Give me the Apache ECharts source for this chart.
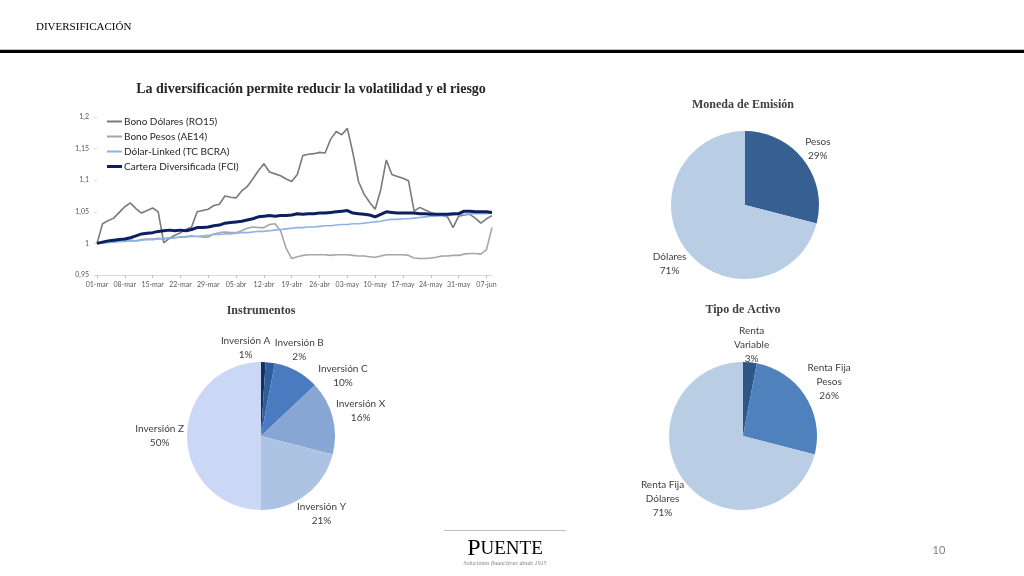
<!DOCTYPE html>
<html><head><meta charset="utf-8">
<script src="https://cdn.jsdelivr.net/npm/echarts@6/dist/echarts.min.js"></script>
<style>html,body{margin:0;padding:0;background:#fff}#c{width:1024px;height:576px}</style>
</head><body><div id="c"></div>
<script>
const dates = ['01-mar','04-mar','05-mar','06-mar','07-mar','08-mar','11-mar','12-mar','13-mar','14-mar','15-mar','18-mar','19-mar','20-mar','21-mar','22-mar','25-mar','26-mar','27-mar','28-mar','29-mar',
'01-abr','02-abr','03-abr','04-abr','05-abr','08-abr','09-abr','10-abr','11-abr','12-abr','15-abr','16-abr','17-abr','18-abr','19-abr','22-abr','23-abr','24-abr','25-abr','26-abr','29-abr','30-abr',
'01-may','02-may','03-may','06-may','07-may','08-may','09-may','10-may','13-may','14-may','15-may','16-may','17-may','20-may','21-may','22-may','23-may','24-may','27-may','28-may','29-may','30-may','31-may',
'03-jun','04-jun','05-jun','06-jun','07-jun','10-jun'];

const bonoDolares = [1.000,1.031,1.036,1.040,1.049,1.058,1.064,1.055,1.048,1.052,
 1.056,1.050,1.001,1.008,1.013,1.017,1.022,1.026,1.050,1.052,
 1.054,1.060,1.062,1.075,1.073,1.072,1.083,1.090,1.102,1.115,
 1.126,1.113,1.110,1.107,1.102,1.098,1.109,1.139,1.141,1.142,
 1.144,1.143,1.165,1.177,1.172,1.182,1.143,1.098,1.078,1.065,
 1.054,1.085,1.132,1.109,1.106,1.103,1.099,1.051,1.057,1.053,
 1.049,1.046,1.044,1.042,1.025,1.043,1.045,1.046,1.040,1.032,
 1.039,1.044];

const bonoPesos = [1.000,1.001,1.002,1.003,1.003,1.004,1.005,1.004,1.006,1.007,
 1.007,1.008,1.007,1.009,1.009,1.010,1.011,1.012,1.011,1.010,
 1.010,1.015,1.017,1.018,1.017,1.017,1.020,1.024,1.026,1.025,
 1.025,1.030,1.031,1.020,0.992,0.976,0.979,0.981,0.982,0.982,
 0.982,0.982,0.981,0.982,0.982,0.982,0.981,0.980,0.980,0.979,
 0.978,0.980,0.982,0.982,0.982,0.982,0.981,0.977,0.976,0.976,
 0.977,0.978,0.980,0.980,0.981,0.981,0.983,0.984,0.984,0.983,
 0.990,1.025];

const dolarLinked = [1.000,1.001,1.001,1.002,1.003,1.003,1.004,1.004,1.005,1.006,
 1.006,1.007,1.008,1.008,1.009,1.010,1.010,1.011,1.011,1.012,
 1.013,1.014,1.014,1.015,1.015,1.016,1.017,1.017,1.018,1.019,
 1.019,1.020,1.021,1.022,1.023,1.024,1.025,1.025,1.026,1.026,
 1.027,1.028,1.028,1.029,1.030,1.030,1.031,1.031,1.032,1.033,
 1.034,1.035,1.037,1.038,1.038,1.039,1.039,1.040,1.041,1.042,
 1.043,1.043,1.044,1.044,1.045,1.046,1.046,1.047,1.047,1.047,
 1.047,1.048];

const carteraFCI = [1.000,1.002,1.004,1.005,1.006,1.007,1.009,1.012,1.015,1.016,
 1.017,1.019,1.020,1.021,1.020,1.021,1.020,1.022,1.025,1.025,
 1.026,1.028,1.029,1.032,1.033,1.034,1.035,1.037,1.039,1.042,
 1.043,1.044,1.043,1.044,1.044,1.045,1.047,1.046,1.047,1.047,
 1.048,1.048,1.049,1.050,1.051,1.052,1.048,1.047,1.046,1.045,
 1.042,1.046,1.050,1.049,1.048,1.048,1.048,1.048,1.047,1.047,
 1.046,1.046,1.046,1.046,1.047,1.047,1.051,1.051,1.050,1.050,
 1.050,1.049];

const lineNames = ['Bono Dólares (RO15)','Bono Pesos (AE14)','Dólar-Linked (TC BCRA)','Cartera Diversificada (FCI)'];

const monedaNames = ['Pesos','Dólares'];
const monedaValues = [29,71];
const instrNames = ['Inversión A','Inversión B','Inversión C','Inversión X','Inversión Y','Inversión Z'];
const instrValues = [1,2,10,16,21,50];
const tipoNames = ['Renta Variable','Renta Fija Pesos','Renta Fija Dólares'];
const tipoValues = [3,26,71];

const SANS = 'Lato, "Open Sans", sans-serif';
const SERIF = '"Liberation Serif", "DejaVu Serif", serif';
const PIE_R = 74;
const LABEL_FONT = 10, LABEL_LH = 14;

// "best fit"-style outside labels: start at slice mid-angle, push neighbours apart until boxes no longer overlap.
const measureCtx = document.createElement('canvas').getContext('2d');
function placeLabels(texts, values, center) {
  measureCtx.font = LABEL_FONT + 'px ' + SANS;
  const sizes = texts.map(t => {
    const lines = t.split('\n');
    return { w: Math.max.apply(null, lines.map(l => measureCtx.measureText(l).width)), h: lines.length * LABEL_LH };
  });
  const total = values.reduce((a, b) => a + b, 0);
  let acc = 0;
  const ang = values.map(v => { const m = (acc + v / 2) / total * 360; acc += v; return m; });
  const pos = (i) => {
    const a = ang[i] * Math.PI / 180, ux = Math.sin(a), uy = -Math.cos(a);
    const d = PIE_R + 3 + Math.abs(ux) * sizes[i].w / 2 + 0.6 * Math.abs(uy) * sizes[i].h / 2;
    return { x: center[0] + ux * d, y: center[1] + uy * d };
  };
  const overlap = (i, j) => {
    const p = pos(i), q = pos(j);
    return Math.abs(p.x - q.x) < (sizes[i].w + sizes[j].w) / 2 + 4 &&
           Math.abs(p.y - q.y) < (sizes[i].h + sizes[j].h) / 2 - 2;
  };
  const n = values.length;
  for (let it = 0; it < 4000; it++) {
    let moved = false;
    for (let i = 0; i < n; i++) {
      const j = (i + 1) % n;
      if (n > 1 && overlap(i, j)) { ang[i] -= 0.15; ang[j] += 0.35; moved = true; }
    }
    if (!moved) break;
  }
  return values.map((v, i) => pos(i));
}

function pieSeries(name, center, names, values, colors, nameFmt) {
  const texts = names.map((n, i) => nameFmt(n) + '\n' + values[i] + '%');
  const places = placeLabels(texts, values, center);
  return {
    type: 'pie', name: name, radius: PIE_R, center: center, startAngle: 90, clockwise: true, silent: true,
    avoidLabelOverlap: false,
    labelLine: { show: false, length: 10, length2: 0 },
    itemStyle: { borderWidth: 0 },
    data: names.map((n, i) => ({ name: n, value: values[i], itemStyle: { color: colors[i] } })),
    label: { show: true, position: 'outside', color: '#404040', fontFamily: SANS, fontSize: LABEL_FONT, lineHeight: LABEL_LH,
      formatter: p => texts[p.dataIndex] },
    labelLayout: p => ({ x: places[p.dataIndex].x, y: places[p.dataIndex].y, align: 'center', verticalAlign: 'middle' })
  };
}

const chart = echarts.init(document.getElementById('c'), null, { renderer: 'canvas' });
const legendText = { fontFamily: SANS, fontSize: 10, lineHeight: 13, color: '#262626', padding: [0, 0, 0, -3] };
const option = {
  backgroundColor: '#fff',
  animation: false,
  legend: [
    { data: lineNames.slice(0, 3), orient: 'vertical', left: 107, top: 115, padding: 0, itemGap: 2, icon: 'rect',
      itemWidth: 15, itemHeight: 2, textStyle: legendText },
    { data: lineNames.slice(3), orient: 'vertical', left: 107, top: 160, padding: 0, itemGap: 2, icon: 'rect',
      itemWidth: 15, itemHeight: 3, textStyle: legendText }
  ],
  grid: { left: 97, top: 117, width: 395, height: 158, containLabel: false },
  xAxis: {
    type: 'category', data: dates, boundaryGap: false,
    axisLine: { lineStyle: { color: '#d9d9d9' } },
    axisTick: { interval: 4, length: 3, lineStyle: { color: '#bfbfbf' } },
    axisLabel: { interval: 4, fontFamily: SANS, fontSize: 7, color: '#595959', margin: 6 },
    splitLine: { show: false }
  },
  yAxis: {
    type: 'value', min: 0.95, max: 1.2, interval: 0.05,
    axisLine: { show: false },
    axisTick: { show: true, length: 3, lineStyle: { color: '#d9d9d9' } },
    splitLine: { show: false },
    axisLabel: { fontFamily: SANS, fontSize: 7, color: '#595959', margin: 8,
      formatter: v => String(+v.toFixed(2)).replace('.', ',') }
  },
  series: [
    { name: lineNames[0], type: 'line', data: bonoDolares, symbol: 'none', lineStyle: { color: '#7a7a7a', width: 1.6 }, itemStyle: { color: '#7a7a7a' }, z: 3 },
    { name: lineNames[1], type: 'line', data: bonoPesos, symbol: 'none', lineStyle: { color: '#a6a6a6', width: 1.6 }, itemStyle: { color: '#a6a6a6' }, z: 2 },
    { name: lineNames[2], type: 'line', data: dolarLinked, symbol: 'none', lineStyle: { color: '#8db3e2', width: 1.6 }, itemStyle: { color: '#8db3e2' }, z: 4 },
    { name: lineNames[3], type: 'line', data: carteraFCI, symbol: 'none', lineStyle: { color: '#0c1f5e', width: 3 }, itemStyle: { color: '#0c1f5e' }, z: 5 },
    pieSeries('Moneda de Emisión', [745, 205], monedaNames, monedaValues, ['#366092', '#b9cde5'], n => n),
    pieSeries('Instrumentos', [261, 436], instrNames, instrValues,
      ['#14305c', '#2f5d9b', '#4a7bc0', '#88a6d4', '#adc3e3', '#cad8f6'], n => n),
    pieSeries('Tipo de Activo', [743, 436], tipoNames, tipoValues, ['#2e5788', '#4f81bd', '#b9cde5'],
      n => n.replace(/^(Renta(?: Fija)?) /, '$1\n'))
  ],
  graphic: [
    { type: 'text', x: 36, y: 27, style: { text: 'DIVERSIFICACIÓN', font: '11px ' + SERIF, fill: '#000', textVerticalAlign: 'middle' } },
    { type: 'rect', shape: { x: 0, y: 49, width: 1024, height: 1 }, style: { fill: '#bfbfbf' } },
    { type: 'rect', shape: { x: 0, y: 50, width: 1024, height: 3 }, style: { fill: '#000' } },
    { type: 'text', x: 311, y: 89, style: { text: 'La diversificación permite reducir la volatilidad y el riesgo', font: 'bold 14px ' + SERIF, fill: '#262626', textAlign: 'center', textVerticalAlign: 'middle' } },
    { type: 'text', x: 743, y: 105, style: { text: 'Moneda de Emisión', font: 'bold 12px ' + SERIF, fill: '#404040', textAlign: 'center', textVerticalAlign: 'middle' } },
    { type: 'text', x: 261, y: 311, style: { text: 'Instrumentos', font: 'bold 12px ' + SERIF, fill: '#404040', textAlign: 'center', textVerticalAlign: 'middle' } },
    { type: 'text', x: 743, y: 310, style: { text: 'Tipo de Activo', font: 'bold 12px ' + SERIF, fill: '#404040', textAlign: 'center', textVerticalAlign: 'middle' } },
    { type: 'rect', shape: { x: 444, y: 530, width: 122, height: 1 }, style: { fill: '#bfbfbf' } },
    { type: 'text', x: 505, y: 549, style: { text: '{a|P}{b|UENTE}', rich: { a: { fontFamily: SERIF, fontSize: 24, color: '#595959' }, b: { fontFamily: SERIF, fontSize: 19, color: '#595959' } }, textAlign: 'center', textVerticalAlign: 'middle' } },
    { type: 'text', x: 505, y: 563, style: { text: 'Soluciones financieras desde 1915', font: 'italic 6px ' + SERIF, fill: '#7f7f7f', textAlign: 'center', textVerticalAlign: 'middle' } },
    { type: 'text', x: 939, y: 550, style: { text: '10', font: '11px ' + SANS, fill: '#7f7f7f', textAlign: 'center', textVerticalAlign: 'middle' } }
  ]
};
chart.setOption(option);
</script>
</body></html>
